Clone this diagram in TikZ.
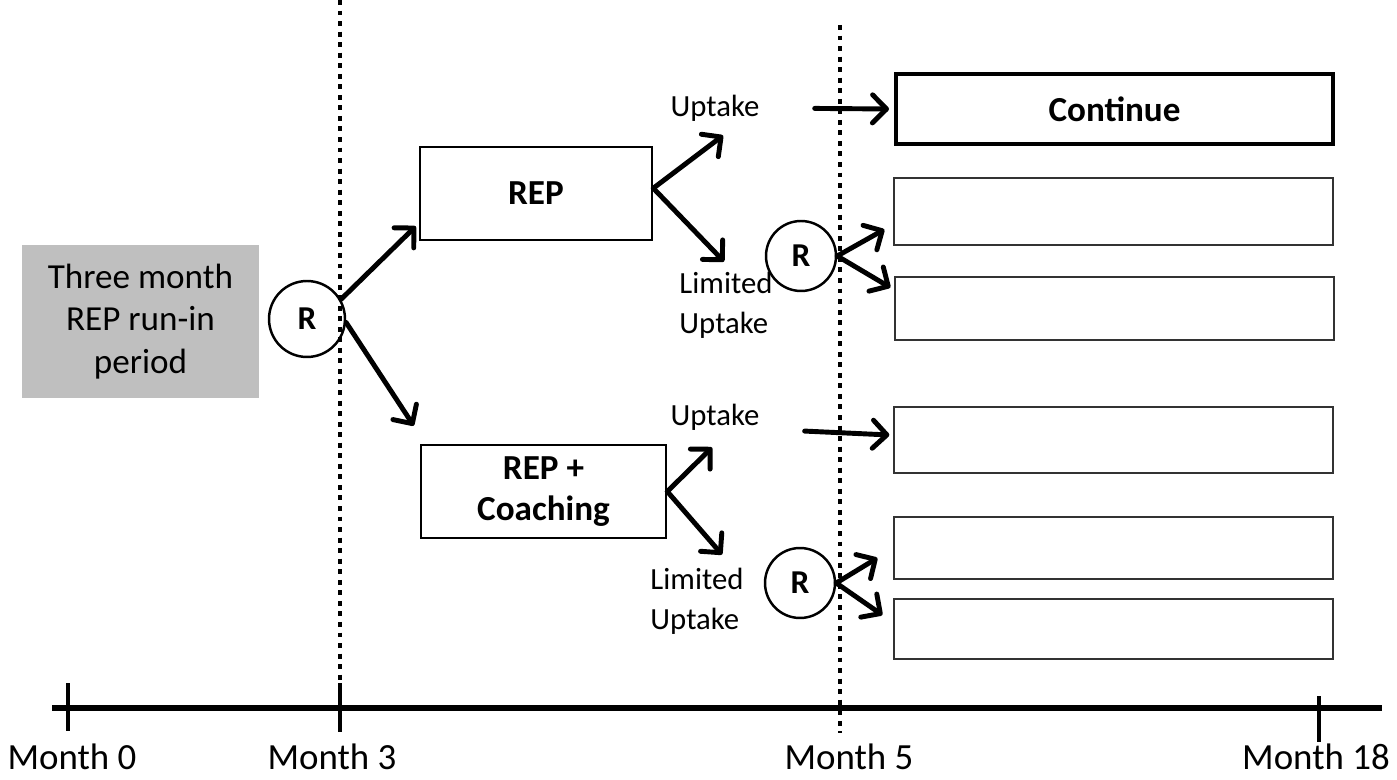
\documentclass[tikz,border=0pt]{standalone}
\usepackage{fontspec}
\setmainfont{Carlito}
\usetikzlibrary{arrows.meta,positioning}

\begin{document}
\begin{tikzpicture}[x=0.02cm, y=-0.02cm,
  arm/.style={-{Straight Barb[length=8pt,width=16pt,round]}, line width=2.8pt, line cap=round},
  armbox/.style={draw, line width=1.5pt, minimum height=1.86cm, align=center, inner sep=0pt, font=\fontsize{20}{23}\selectfont\bfseries},
  blank/.style={draw=black!80, line width=0.8pt, minimum width=8.78cm, inner sep=0pt},
  rnd/.style={circle, draw, line width=1.4pt, minimum size=1.4cm, inner sep=0pt, font=\fontsize{19}{22}\selectfont\bfseries},
  lab/.style={inner sep=0pt, align=left, font=\fontsize{17.5}{22.7}\selectfont},
  month/.style={inner sep=0pt, font=\fontsize{21}{26}\selectfont},
  tick/.style={line width=2.6pt},
  sep/.style={line width=2.8pt, dash pattern=on 2.8pt off 3.2pt}]
  \useasboundingbox (0,0) rectangle (1397,780);

  \draw[sep] (340,0) -- (340,718);
  \draw[sep] (840,25) -- (840,733);

  \node[fill=black!25, minimum width=4.74cm, minimum height=3.06cm, align=center, font=\fontsize{20}{24}\selectfont] (runin) at (140.5,321.5) {Three month\\REP run-in\\period};
  \node[rnd, minimum size=1.52cm] (r1) at (307,319) {R};

  \node[armbox, minimum width=4.64cm] (rep) at (536,193.5) {REP};
  \node[armbox, minimum width=4.9cm] (coach) at (543.5,491.5) {REP +\\Coaching};

  \node[lab] (up1) at (715,108) {Uptake};
  \node[lab] (lim1) at (726,305) {Limited\\Uptake};
  \node[lab] (up2) at (715,417) {Uptake};
  \node[lab] (lim2) at (697,601) {Limited\\Uptake};

  \node[rnd] (r2) at (801,256) {R};
  \node[rnd] (r3) at (800,583) {R};

  \node[draw, line width=2pt, minimum width=8.74cm, minimum height=1.4cm, inner sep=0pt, font=\fontsize{20}{23}\selectfont\bfseries] (cont) at (1114.5,109) {Continue};
  \node[blank, minimum height=1.34cm] (ba) at (1113.5,211.5) {};
  \node[blank, minimum height=1.26cm] (bb) at (1114.5,308.5) {};
  \node[blank, minimum height=1.32cm] (bc) at (1113.5,440) {};
  \node[blank, minimum height=1.24cm] (bd) at (1113.5,548) {};
  \node[blank, minimum height=1.2cm] (be) at (1113.5,629) {};

  \draw[arm] (r1.30) -- ([shift={(-3,-15)}]rep.south west);
  \draw[arm] (r1.-5) -- ([shift={(-6,-18)}]coach.north west);

  \draw[arm] ([yshift=3pt]rep.east) -- ([shift={(8,14)}]up1.south);
  \draw[arm] ([yshift=3pt]rep.east) -- ([shift={(-2,-10)}]lim1.north);
  \draw[arm] (coach.east) -- ([shift={(-3,17)}]up2.south);
  \draw[arm] (coach.east) -- ([shift={(25,-13)}]lim2.north);

  \draw[arm, shorten <=1.1cm] (up1.east) -- ([xshift=-3pt]cont.west);
  \draw[arm, shorten <=0.9cm] ([shift={(0,12)}]up2.east) -- ([shift={(-4,-5)}]bc.west);

  \draw[arm] (r2.east) -- ([shift={(-9,18)}]ba.west);
  \draw[arm] (r2.east) -- ([shift={(-4,-21)}]bb.west);
  \draw[arm] (r3.east) -- ([shift={(-16,10)}]bd.west);
  \draw[arm] (r3.east) -- ([shift={(-11,-14)}]be.west);

  \coordinate (m0) at (68,708);
  \coordinate (m3) at (340,708);
  \coordinate (m18) at (1319,708);
  \draw[line width=3pt] (52,708) -- (1382,708);
  \draw[tick] ([shift={(0,-25)}]m0) -- ([shift={(0,23)}]m0);
  \draw[tick] ([shift={(0,-25)}]m3) -- ([shift={(0,24)}]m3);
  \draw[tick] ([shift={(0,-12)}]m18) -- ([shift={(0,34)}]m18);

  \node[month] (lm0) at (72,757) {Month 0};
  \node[month] (lm3) at (332,757) {Month 3};
  \node[month] (lm5) at (849,757) {Month 5};
  \node[month] (lm18) at (1316,757) {Month 18};
\end{tikzpicture}
\end{document}
